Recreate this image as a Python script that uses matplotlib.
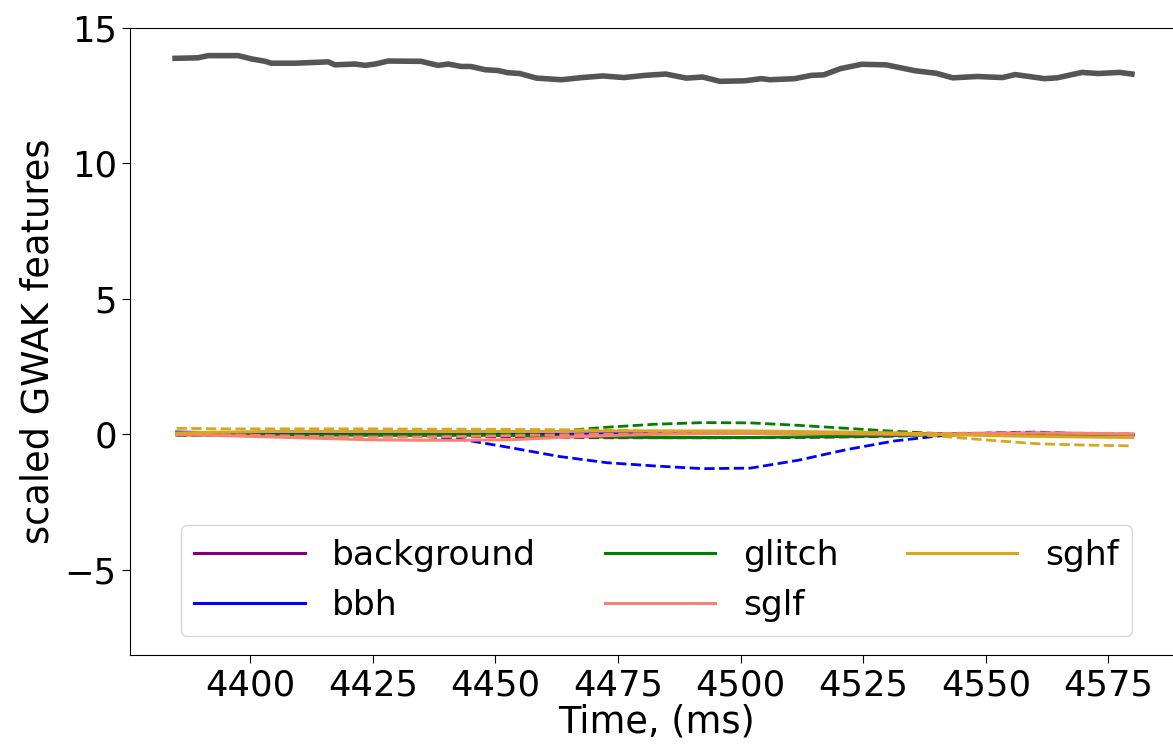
import matplotlib
matplotlib.use("Agg")
import matplotlib.pyplot as plt

# time grid of the GWAK feature traces (ms)
t_feat = [4385.0, 4394.75, 4404.5, 4414.25, 4424.0, 4433.75, 4443.5,
          4453.25, 4463.0, 4472.75, 4482.5, 4492.25, 4502.0, 4511.75,
          4521.5, 4531.25, 4541.0, 4550.75, 4560.5, 4570.25, 4580.0]

# solid traces
background = [0.02, 0.02, 0.0, 0.0, 0.0, 0.0, 0.02, 0.05, 0.08, 0.1, 0.1,
              0.08, 0.07, 0.06, 0.05, 0.03, 0.02, 0.0, 0.0, -0.02, -0.02]
bbh = [0.08, 0.05, 0.02, 0.0, -0.02, -0.03, -0.02, 0.0, 0.03, 0.05, 0.08,
       0.1, 0.08, 0.05, 0.05, 0.03, 0.0, 0.02, 0.02, 0.0, 0.0]
glitch = [-0.02, -0.02, -0.03, -0.03, -0.03, -0.03, -0.03, -0.05, -0.08, -0.1,
          -0.12, -0.12, -0.12, -0.1, -0.08, -0.05, -0.02, 0.0, 0.0, -0.02, -0.02]
sglf = [-0.02, -0.05, -0.1, -0.15, -0.2, -0.22, -0.22, -0.2, -0.12, -0.05, 0.0,
        0.02, 0.03, 0.03, 0.02, 0.0, 0.0, 0.03, 0.05, 0.03, 0.0]
sghf = [0.05, 0.08, 0.1, 0.1, 0.1, 0.1, 0.1, 0.1, 0.1, 0.12, 0.12, 0.12,
        0.12, 0.1, 0.08, 0.05, 0.0, -0.05, -0.08, -0.1, -0.12]

# dashed traces
background_d = [0.0, -0.02, -0.03, -0.04, -0.05, -0.06, -0.08, -0.1, -0.12, -0.13,
                -0.13, -0.13, -0.13, -0.12, -0.1, -0.07, -0.03, 0.0, 0.0, -0.02, -0.03]
bbh_d = [0.05, 0.03, 0.0, -0.02, -0.03, -0.05, -0.2, -0.5, -0.82, -1.05, -1.17,
         -1.27, -1.25, -0.96, -0.57, -0.25, -0.05, 0.05, 0.08, 0.02, -0.03]
glitch_d = [-0.05, -0.05, -0.05, -0.05, -0.04, -0.03, -0.02, 0.02, 0.12, 0.26, 0.37,
            0.43, 0.42, 0.33, 0.22, 0.11, 0.02, -0.02, -0.05, -0.08, -0.1]
sglf_d = [0.0, -0.02, -0.05, -0.08, -0.1, -0.1, -0.08, -0.05, -0.02, 0.0, 0.02,
          0.03, 0.03, 0.03, 0.02, 0.02, 0.03, 0.05, 0.05, 0.04, 0.03]
sghf_d = [0.22, 0.2, 0.2, 0.2, 0.2, 0.19, 0.19, 0.18, 0.17, 0.15, 0.12, 0.1,
          0.08, 0.06, 0.05, 0.02, -0.08, -0.22, -0.35, -0.4, -0.43]

# the big gray trace near the top
t_gray = [4384.68, 4389.37, 4391.43, 4397.60, 4400.24, 4403.08, 4404.26, 4409.15,
          4415.91, 4417.28, 4421.39, 4423.44, 4425.50, 4428.14, 4434.80, 4438.32,
          4440.38, 4443.02, 4444.98, 4447.92, 4450.56, 4452.52, 4454.97, 4458.39,
          4463.48, 4467.69, 4471.90, 4476.21, 4480.42, 4484.73, 4488.94, 4492.26,
          4495.79, 4500.88, 4504.21, 4505.97, 4511.06, 4514.39, 4516.94, 4520.36,
          4524.67, 4529.66, 4535.63, 4539.84, 4543.27, 4548.26, 4553.35, 4556.00,
          4561.97, 4564.52, 4569.61, 4572.94, 4577.25, 4579.79]
gray = [13.88, 13.9, 13.98, 13.98, 13.86, 13.77, 13.7, 13.7,
        13.75, 13.64, 13.67, 13.62, 13.67, 13.78, 13.77, 13.62,
        13.67, 13.58, 13.58, 13.46, 13.43, 13.35, 13.32, 13.15,
        13.09, 13.17, 13.23, 13.17, 13.25, 13.3, 13.15, 13.19,
        13.03, 13.05, 13.13, 13.09, 13.13, 13.25, 13.27, 13.5,
        13.66, 13.64, 13.42, 13.33, 13.16, 13.21, 13.17, 13.28,
        13.13, 13.16, 13.36, 13.32, 13.36, 13.3]

labels = ["background", "bbh", "glitch", "sglf", "sghf"]
colors = ["purple", "blue", "green", "salmon", "goldenrod"]
solid = [background, bbh, glitch, sglf, sghf]
dashed = [background_d, bbh_d, glitch_d, sglf_d, sghf_d]

W, H = 1173, 748
fig = plt.figure(figsize=(W / 100, H / 100), dpi=100)
# right edge of the axes sits just past the figure, like the cropped original
ax = fig.add_axes([130 / W, 1 - 655 / H, 1053 / W, 627 / H])

ax.plot(t_gray, gray, color="#555555", lw=4)
for lab, c, ys, yd in zip(labels, colors, solid, dashed):
    ax.plot(t_feat, ys, color=c, lw=2.2, label=lab)
    ax.plot(t_feat, yd, color=c, lw=2, ls="--")

ax.set_xlim(4375.5, 4590.2)
ax.set_ylim(-8.15, 15)
ax.set_xticks([4400, 4425, 4450, 4475, 4500, 4525, 4550, 4575])
ax.set_yticks([-5, 0, 5, 10, 15])
ax.tick_params(labelsize=25.5, length=6)
ax.set_xlabel("Time, (ms)", fontsize=26.5, labelpad=1)
ax.set_ylabel("scaled GWAK features", fontsize=26.5, labelpad=6)

ax.legend(loc="lower center", ncol=3, fontsize=24.8, handlelength=3.2,
          borderaxespad=0.55, columnspacing=2.0)

fig.savefig("out.png", dpi=100)
